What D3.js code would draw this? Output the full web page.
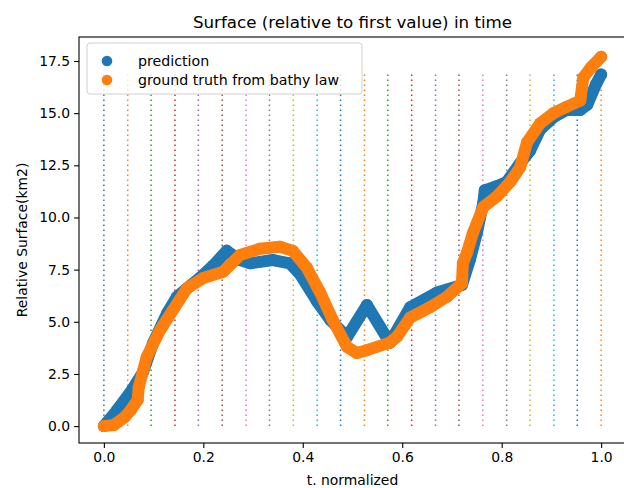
<!DOCTYPE html>
<html>
<head>
<meta charset="utf-8">
<script src="https://cdn.jsdelivr.net/npm/d3@7"></script>
<style>
  body { margin: 0; background: #fff; }
  text { font-family: "DejaVu Sans", sans-serif; fill: #000; }
</style>
</head>
<body>
<div id="chart"></div>
<script>
// prediction (blue)
const predT = [0, 0.026, 0.052, 0.078, 0.099, 0.127, 0.147, 0.167, 0.193, 0.22, 0.247, 0.274, 0.294, 0.34, 0.374, 0.394, 0.428, 0.455, 0.489, 0.529, 0.575, 0.616, 0.67, 0.72, 0.736, 0.75, 0.763, 0.766, 0.79, 0.81, 0.837, 0.857, 0.877, 0.904, 0.93, 0.958, 0.972, 0.99, 1.0];
const predV = [0, 0.75, 1.58, 2.54, 3.98, 5.4, 6.2, 6.6, 7.1, 7.7, 8.4, 7.96, 7.8, 7.96, 7.8, 7.3, 6.0, 5.1, 4.27, 5.8, 4.0, 5.7, 6.4, 6.76, 7.96, 9.25, 10.7, 11.3, 11.5, 11.7, 12.6, 13.2, 14.2, 14.8, 15.15, 15.15, 15.4, 16.4, 16.85];

// ground truth from bathy law (orange)
const truthT = [0, 0.02, 0.042, 0.055, 0.068, 0.07, 0.086, 0.113, 0.139, 0.167, 0.2, 0.24, 0.274, 0.314, 0.354, 0.38, 0.408, 0.435, 0.46, 0.489, 0.509, 0.529, 0.575, 0.59, 0.616, 0.656, 0.69, 0.72, 0.722, 0.73, 0.742, 0.763, 0.79, 0.817, 0.837, 0.851, 0.877, 0.904, 0.93, 0.958, 0.964, 0.98, 1.0];
const truthV = [0, 0.05, 0.43, 0.8, 1.25, 1.85, 3.3, 4.6, 5.56, 6.6, 7.1, 7.4, 8.2, 8.5, 8.6, 8.4, 7.6, 6.4, 5.1, 3.8, 3.5, 3.64, 4.0, 4.3, 5.2, 5.7, 6.2, 6.85, 7.8, 8.3, 9.25, 10.5, 11.0, 11.7, 12.4, 13.6, 14.5, 15.0, 15.3, 15.6, 16.7, 17.2, 17.7];

// dotted vertical markers
const vLineT = [0, 0.048, 0.095, 0.143, 0.19, 0.238, 0.286, 0.333, 0.381, 0.429, 0.476, 0.524, 0.571, 0.619, 0.667, 0.714, 0.762, 0.81, 0.857, 0.905, 0.952, 1.0];

const xTicks = [0, 0.2, 0.4, 0.6, 0.8, 1.0];
const yTicks = [0, 2.5, 5, 7.5, 10, 12.5, 15, 17.5];
const legendLabels = ["prediction", "ground truth from bathy law"];

const tab10 = ["#1f77b4", "#ff7f0e", "#2ca02c", "#d62728", "#9467bd", "#8c564b", "#e377c2", "#7f7f7f", "#bcbd22", "#17becf"];

const width = 624, height = 488;
const mLeft = 79, mRight = 626, mTop = 37, mBottom = 443;

const svg = d3.select("#chart")
  .append("svg")
  .attr("width", width)
  .attr("height", height);

const xScale = d3.scaleLinear().domain([-0.05, 1.05]).range([mLeft, mRight]);
const yScale = d3.scaleLinear().domain([-0.81, 18.65]).range([mBottom, mTop]);

// vertical dotted lines, spanning the prediction range
const [vMin, vMax] = d3.extent(predV);
svg.append("g")
  .selectAll("line")
  .data(vLineT)
  .enter()
  .append("line")
  .attr("x1", (d) => xScale(d))
  .attr("x2", (d) => xScale(d))
  .attr("y1", yScale(vMin))
  .attr("y2", yScale(vMax))
  .attr("stroke", (d, i) => tab10[i % 10])
  .attr("stroke-width", 1.5)
  .attr("stroke-dasharray", "1.5,3.5");

// dense scatter looks like a thick band: draw band + markers
const series = [
  { t: predT, v: predV, color: tab10[0] },
  { t: truthT, v: truthV, color: tab10[1] },
];

const line = d3.line()
  .x((d) => xScale(d[0]))
  .y((d) => yScale(d[1]));

series.forEach((s) => {
  const pts = s.t.map((t, i) => [t, s.v[i]]);
  svg.append("path")
    .datum(pts)
    .attr("d", line)
    .attr("fill", "none")
    .attr("stroke", s.color)
    .attr("stroke-width", 12)
    .attr("stroke-linejoin", "round")
    .attr("stroke-linecap", "round");
  svg.append("g")
    .selectAll("circle")
    .data(pts)
    .enter()
    .append("circle")
    .attr("cx", (d) => xScale(d[0]))
    .attr("cy", (d) => yScale(d[1]))
    .attr("r", 6)
    .attr("fill", s.color);
});

// axes
svg.append("g")
  .attr("transform", `translate(0, ${mBottom})`)
  .call(d3.axisBottom(xScale).tickValues(xTicks).tickFormat(d3.format(".1f")).tickSize(4.9).tickPadding(4))
  .call((g) => g.selectAll("text").attr("font-size", 13.9).attr("font-family", "DejaVu Sans"));

svg.append("g")
  .attr("transform", `translate(${mLeft}, 0)`)
  .call(d3.axisLeft(yScale).tickValues(yTicks).tickFormat(d3.format(".1f")).tickSize(4.9).tickPadding(4))
  .call((g) => g.selectAll("text").attr("font-size", 13.9).attr("font-family", "DejaVu Sans"));

svg.selectAll(".domain").remove();
svg.selectAll(".tick line").attr("stroke", "#000").attr("stroke-width", 1.1);

// frame
svg.append("rect")
  .attr("x", mLeft)
  .attr("y", mTop)
  .attr("width", mRight - mLeft)
  .attr("height", mBottom - mTop)
  .attr("fill", "none")
  .attr("stroke", "#000")
  .attr("stroke-width", 1.1);

// legend
const legend = svg.append("g").attr("transform", "translate(87, 43)");
legend.append("rect")
  .attr("width", 275)
  .attr("height", 51)
  .attr("rx", 3)
  .attr("fill", "#fff")
  .attr("fill-opacity", 0.8)
  .attr("stroke", "#d0d0d0");
legendLabels.forEach((label, i) => {
  legend.append("circle")
    .attr("cx", 20)
    .attr("cy", 18 + i * 19)
    .attr("r", 5.3)
    .attr("fill", tab10[i]);
  legend.append("text")
    .attr("x", 51)
    .attr("y", 18 + i * 19)
    .attr("dy", "0.35em")
    .attr("font-size", 14.2)
    .text(label);
});

// title and axis labels
svg.append("text")
  .attr("x", (mLeft + mRight) / 2)
  .attr("y", 28)
  .attr("text-anchor", "middle")
  .attr("font-size", 16.7)
  .text("Surface (relative to first value) in time");

svg.append("text")
  .attr("x", (mLeft + mRight) / 2)
  .attr("y", 485)
  .attr("text-anchor", "middle")
  .attr("font-size", 13.9)
  .text("t. normalized");

svg.append("text")
  .attr("transform", `translate(27, ${(mTop + mBottom) / 2}) rotate(-90)`)
  .attr("text-anchor", "middle")
  .attr("font-size", 13.9)
  .text("Relative Surface(km2)");
</script>
</body>
</html>
